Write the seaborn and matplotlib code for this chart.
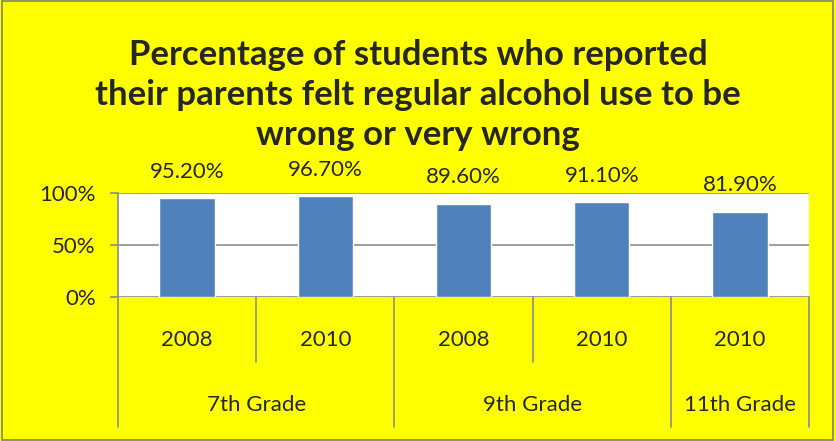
import matplotlib
matplotlib.use("Agg")
import matplotlib.pyplot as plt
import matplotlib.transforms as mtransforms
from matplotlib.patches import Rectangle
import seaborn as sns
import pandas as pd

# chart data
grades = ["7th Grade", "7th Grade", "9th Grade", "9th Grade", "11th Grade"]
years = ["2008", "2010", "2008", "2010", "2010"]
values = [95.2, 96.7, 89.6, 91.1, 81.9]
value_labels = ["95.20%", "96.70%", "89.60%", "91.10%", "81.90%"]
y_ticks = [0, 50, 100]
y_tick_labels = ["0%", "50%", "100%"]

title = ("Percentage of students who reported\n"
         "their parents felt regular alcohol use to be\n"
         "wrong or very wrong")

YELLOW = "#FFFF00"
BLUE = "#4F81BD"
GRID = "#8C8C8C"
FONT = ["Lato", "DejaVu Sans"]
FS = 16

df = pd.DataFrame({"grade": grades, "year": years, "value": values})
df["slot"] = df["grade"] + " " + df["year"]

sns.set_style("white")
plt.rcParams["font.family"] = FONT

fig = plt.figure(figsize=(8.36, 4.41), dpi=100)
fig.patch.set_facecolor(YELLOW)
ax = fig.add_axes([118 / 836, 1 - 297 / 441, (809 - 118) / 836, 104 / 441])
ax.set_facecolor("white")

sns.barplot(data=df, x="slot", y="value", order=list(df["slot"]),
            color=BLUE, saturation=1, width=0.4, ax=ax)

ax.set_xlim(-0.5, len(values) - 0.5)
ax.set_ylim(0, 100)
ax.set_yticks(y_ticks)
ax.set_yticklabels(y_tick_labels, fontsize=FS)
ax.set_xticks([])
ax.set_xlabel("")
ax.set_ylabel("")
for y in y_ticks:
    ax.axhline(y, color=GRID, lw=1.2, zorder=0)
for side in ["top", "right", "bottom"]:
    ax.spines[side].set_visible(False)
ax.spines["left"].set_color(GRID)
ax.spines["left"].set_linewidth(1.2)
ax.tick_params(axis="y", direction="out", length=6, width=1.2, color=GRID,
               pad=10, left=True)

# data labels
for i, (v, lab) in enumerate(zip(values, value_labels)):
    ax.annotate(lab, (i, v), xytext=(0, 19), textcoords="offset points",
                ha="center", va="center", fontsize=FS)

# two-level category axis
trans = mtransforms.blended_transform_factory(ax.transData, ax.transAxes)
short, long_ = -0.625, -1.25
boundaries = [-0.5]
for i in range(1, len(grades)):
    boundaries.append(i - 0.5)
boundaries.append(len(grades) - 0.5)
for b in boundaries:
    left_i = int(b - 0.5) if b > 0 else None
    right_i = int(b + 0.5) if b < len(grades) - 0.5 else None
    if left_i is not None and right_i is not None and grades[left_i] == grades[right_i]:
        depth = short
    else:
        depth = long_
    ax.plot([b, b], [0, depth], transform=trans, color=GRID, lw=1.2,
            clip_on=False)

for i, yr in enumerate(years):
    ax.text(i, -0.413, yr, transform=trans, ha="center", va="center",
            fontsize=FS)

start = 0
for i in range(1, len(grades) + 1):
    if i == len(grades) or grades[i] != grades[start]:
        ax.text((start + i - 1) / 2, -1.04, grades[start], transform=trans,
                ha="center", va="center", fontsize=FS)
        start = i

fig.text(0.5, 1 - 95 / 441, title, ha="center", va="center",
         fontsize=25, fontweight="bold", linespacing=1.3)

fig.patches.append(Rectangle((0.002, 0.003), 0.995, 0.994,
                             transform=fig.transFigure, fill=False,
                             edgecolor="#7F7F7F", lw=1.2))

fig.savefig("out.png", dpi=100, facecolor=YELLOW)
